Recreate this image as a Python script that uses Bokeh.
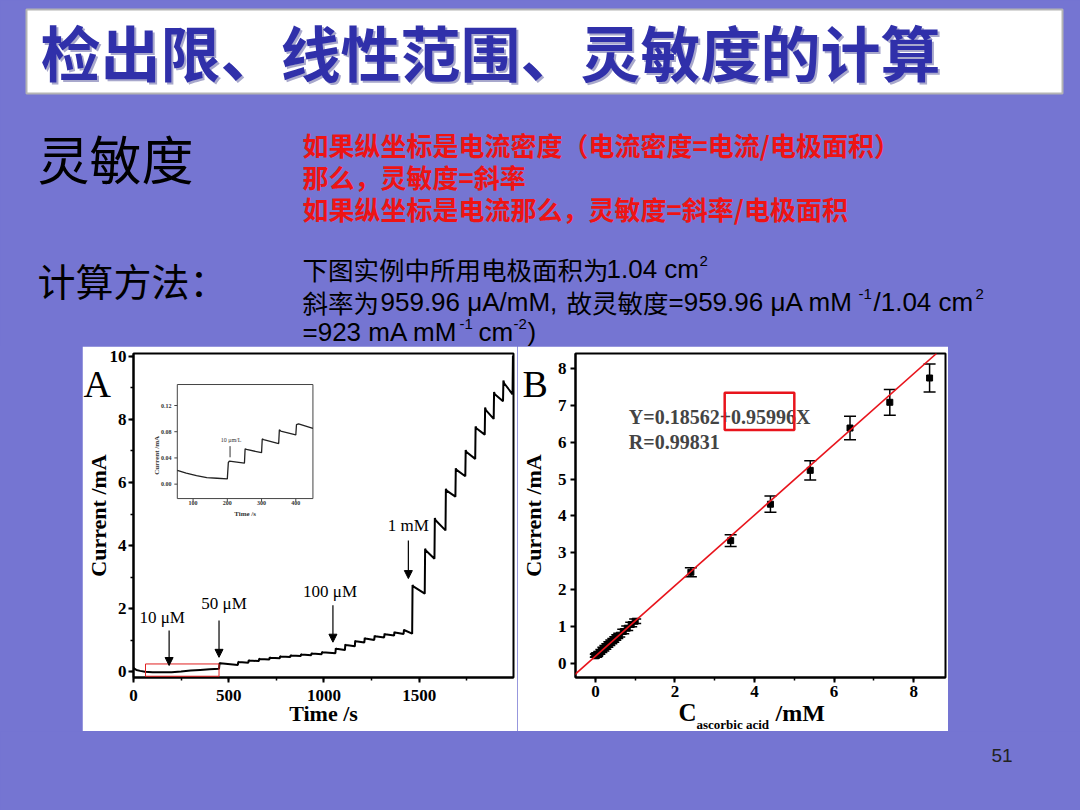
import math
from bokeh.plotting import figure
from bokeh.models import (Range1d, SingleIntervalTicker, Label, Arrow, NormalHead,
                          Whisker, TeeHead, Slope, BoxAnnotation, ColumnDataSource, Spacer)
from bokeh.layouts import column, row
from bokeh.core.properties import value
from bokeh.embed import file_html
from bokeh.resources import INLINE

# ---------------- data / texts ----------------
TITLE = "检出限、线性范围、灵敏度的计算"
HEAD_SENS = "灵敏度"
HEAD_CALC = "计算方法："
RED_LINES = ["如果纵坐标是电流密度（电流密度=电流/电极面积）",
             "那么，灵敏度=斜率",
             "如果纵坐标是电流那么，灵敏度=斜率/电极面积"]
PAGE_NO = "51"

# Panel A: amperometric i-t curve
time_s = [0, 4, 15, 35, 60, 100, 150, 200, 250, 300, 350, 400, 449,
          452, 456, 548, 550, 553, 603, 605, 608, 658, 660, 663, 713,
          715, 718, 768, 770, 773, 823, 825, 828, 878, 880, 883, 933,
          935, 938, 988, 990, 993, 1060,
          1062, 1065, 1110, 1112, 1115, 1162, 1164, 1167, 1212, 1214, 1217, 1264,
          1266, 1269, 1316, 1318, 1321, 1368, 1370, 1373, 1418, 1420, 1423, 1463,
          1465, 1469, 1529, 1531, 1535, 1580, 1582, 1586, 1638, 1640, 1644, 1690,
          1692, 1696, 1742, 1744, 1748, 1794, 1796, 1800, 1844, 1846, 1850, 1891,
          1893, 1897, 1940, 1942, 1946, 1990, 1992, 1995]
current_mA = [0.12, 0.09, 0.05, 0.02, -0.01, -0.02, -0.02, -0.02, 0.0, 0.03, 0.05, 0.07, 0.09,
              0.27, 0.26, 0.21, 0.31, 0.30, 0.28, 0.36, 0.35, 0.33, 0.41, 0.40, 0.38,
              0.45, 0.44, 0.42, 0.49, 0.48, 0.46, 0.52, 0.51, 0.49, 0.55, 0.54, 0.52,
              0.58, 0.57, 0.55, 0.62, 0.61, 0.58,
              0.74, 0.72, 0.68, 0.86, 0.84, 0.80, 0.98, 0.96, 0.92, 1.07, 1.05, 1.00,
              1.14, 1.12, 1.08, 1.20, 1.18, 1.14, 1.26, 1.24, 1.19, 1.33, 1.31, 1.20,
              2.75, 2.70, 2.47, 3.90, 3.84, 3.58, 4.87, 4.80, 4.48, 5.80, 5.74, 5.55,
              6.45, 6.40, 6.20, 7.03, 6.97, 6.75, 7.78, 7.72, 7.52, 8.38, 8.30, 8.02,
              8.87, 8.80, 8.58, 9.24, 9.15, 8.80, 10.02, 10.0]

add_labels = ["10 μM", "50 μM", "100 μM", "1 mM"]
add_time = [187, 449, 1047, 1443]
arrow_top = [1.30, 1.62, 2.10, 4.16]
arrow_tip = [0.19, 0.45, 0.93, 2.95]

# Panel A inset (first 10 uM additions)
inset_time_s = [54, 80, 110, 140, 170, 200, 203, 206, 250, 252, 256, 300,
                302, 306, 350, 352, 356, 400, 402, 408, 450]
inset_current_mA = [0.021, 0.017, 0.013, 0.010, 0.009, 0.008, 0.033, 0.035, 0.032,
                    0.054, 0.053, 0.048, 0.069, 0.068, 0.062, 0.083, 0.081, 0.075,
                    0.091, 0.092, 0.085]
inset_xticks = [100, 200, 300, 400]
inset_yticks = [0.00, 0.04, 0.08, 0.12]
inset_ytick_labels = ["0.00", "0.04", "0.08", "0.12"]
inset_note = "10 μm/L"

# Panel B: calibration
conc_mM = [0.01, 0.02, 0.03, 0.04, 0.05, 0.10, 0.15, 0.20, 0.25, 0.30, 0.35, 0.40,
           0.45, 0.50, 0.55, 0.60, 0.70, 0.80, 0.90, 1.00,
           2.4, 3.4, 4.4, 5.4, 6.4, 7.4, 8.4]
resp_mA = [0.20, 0.21, 0.22, 0.23, 0.24, 0.28, 0.33, 0.38, 0.43, 0.48, 0.53, 0.58,
           0.62, 0.67, 0.72, 0.76, 0.86, 0.95, 1.05, 1.14,
           2.47, 3.33, 4.32, 5.24, 6.39, 7.09, 7.75]
resp_err = [0.04, 0.04, 0.04, 0.04, 0.04, 0.04, 0.04, 0.05, 0.05, 0.05, 0.05, 0.05,
            0.05, 0.05, 0.05, 0.05, 0.06, 0.06, 0.06, 0.06,
            0.12, 0.16, 0.22, 0.26, 0.32, 0.35, 0.38]
fit_intercept = 0.18562
fit_slope = 0.95996
fit_r = 0.99831

# ---------------- styles ----------------
BG = "#7575d2"
CJK = "Noto Sans CJK SC"
LAT = "Liberation Sans"
SERIF = "Liberation Serif"
RED = "#ee1414"


def txt(p, x, y, s, size, color="black", font=CJK, style="normal",
        align="left", baseline="middle", angle=0.0):
    p.text(x=[x], y=[y], text=[s], text_font=value(font), text_font_size=f"{size}px",
           text_font_style=style, text_color=color, text_align=align,
           text_baseline=baseline, angle=angle)


# ---------------- top (slide text) ----------------
TOP_H = 346
top = figure(width=1080, height=TOP_H, x_range=Range1d(0, 1080), y_range=Range1d(TOP_H, 0),
             output_backend="svg", toolbar_location=None, x_axis_type=None, y_axis_type=None,
             min_border=0, background_fill_color=BG, border_fill_color=BG,
             outline_line_color=None)
top.grid.visible = False
top.quad(left=[26], right=[1062], top=[9], bottom=[93], fill_color="white",
         line_color="#b4b4b4", line_width=2)
txt(top, 42, 52, TITLE, 60, "#a8a8cc", style="bold")
txt(top, 40, 50, TITLE, 60, "#3030aa", style="bold")
txt(top, 37, 157, HEAD_SENS, 52)
txt(top, 37, 279, HEAD_CALC, 38)
for yy, s in zip([144, 176, 208], RED_LINES):
    txt(top, 302, yy, s, 26, RED, style="bold")

SUP = 15
# line 1
txt(top, 302, 268, "下图实例中所用电极面积为", 25.5)
txt(top, 606, 268, "1.04 cm", 26, font=LAT)
txt(top, 699, 260, "2", SUP, font=LAT)
# line 2
txt(top, 302, 301, "斜率为", 25.5)
txt(top, 380, 301, "959.96 μA/mM,", 26, font=LAT)
txt(top, 566, 301, "故灵敏度", 25.5)
txt(top, 668, 301, "=959.96 μA mM", 26, font=LAT)
txt(top, 858, 293, "-1", SUP, font=LAT)
txt(top, 873, 301, "/1.04 cm", 26, font=LAT)
txt(top, 975, 293, "2", SUP, font=LAT)
# line 3
txt(top, 302, 331, "=923 mA mM", 26, font=LAT)
txt(top, 459, 323, "-1", SUP, font=LAT)
txt(top, 478, 331, "cm", 26, font=LAT)
txt(top, 513, 323, "-2", SUP, font=LAT)
txt(top, 527, 331, ")", 26, font=LAT)


def style_axes(p, tick_size="17px"):
    p.grid.visible = False
    for ax in (p.xaxis, p.yaxis):
        ax.axis_line_width = 2
        ax.major_tick_line_width = 2
        ax.minor_tick_line_width = 1.5
        ax.major_tick_in = 0
        ax.major_tick_out = 5
        ax.minor_tick_in = 0
        ax.minor_tick_out = 3
        ax.major_label_text_font = SERIF
        ax.major_label_text_font_style = "bold"
        ax.major_label_text_font_size = tick_size
        ax.major_label_text_color = "black"
        ax.axis_label_text_font = SERIF
        ax.axis_label_text_font_style = "bold"
        ax.axis_label_text_font_size = "22px"
        ax.axis_label_text_color = "black"


MID_Y0 = TOP_H
MID_H = 731 - TOP_H
# both panels share the same frame top/bottom (row aligns them)
FR_TOP = 353 - TOP_H
FR_BOT = 54

# ---------------- panel A ----------------
pA = figure(width=435, height=MID_H, x_range=Range1d(0, 1995), y_range=Range1d(-0.19, 10.095),
            output_backend="svg", toolbar_location=None,
            min_border_left=50, min_border_right=4, min_border_top=FR_TOP,
            min_border_bottom=FR_BOT,
            background_fill_color="white", border_fill_color="white",
            outline_line_color="black", outline_line_width=2)
style_axes(pA)
pA.xaxis.ticker = SingleIntervalTicker(interval=500, num_minor_ticks=2)
pA.yaxis.ticker = SingleIntervalTicker(interval=2, num_minor_ticks=2)
pA.xaxis.axis_label = "Time /s"
pA.yaxis.axis_label = "Current /mA"
pA.xaxis.major_label_standoff = 7
pA.xaxis.axis_label_standoff = -3
pA.yaxis.major_label_standoff = 2
pA.yaxis.axis_label_standoff = -4

pA.line(time_s, current_mA, line_color="black", line_width=2)
pA.add_layout(BoxAnnotation(left=63, right=449, bottom=-0.15, top=0.24, fill_alpha=0,
                            line_color="#e02020", line_alpha=1, line_width=1))
for t, y0, y1 in zip(add_time, arrow_top, arrow_tip):
    pA.add_layout(Arrow(end=NormalHead(size=8, fill_color="black", line_color="black",
                                       line_width=1),
                        x_start=t, y_start=y0, x_end=t, y_end=y1,
                        line_color="black", line_width=1.2))
for s, lx, ly in zip(add_labels, [31, 356, 890, 1335], [1.71, 2.16, 2.55, 4.63]):
    pA.add_layout(Label(x=lx, y=ly, text=s, text_font=SERIF, text_font_size="17px",
                        text_baseline="middle", text_color="black"))

# inset
ins_x = Range1d(54, 450)
ins_y = Range1d(-0.022, 0.152)
inset = pA.subplot(x_source=ins_x, y_source=ins_y,
                   x_target=Range1d(230, 942), y_target=Range1d(5.49, 9.11))
inset.quad(left=[ins_x.start], right=[ins_x.end], bottom=[ins_y.start], top=[ins_y.end],
           fill_color="white", line_color="#444444", line_width=1)
inset.line(inset_time_s, inset_current_mA, line_color="#222222", line_width=1.3)
inset.segment(x0=inset_xticks, y0=[ins_y.start] * 4, x1=inset_xticks,
              y1=[ins_y.start - 0.0045] * 4, line_color="#444444", line_width=1)
inset.segment(x0=[ins_x.start] * 4, y0=inset_yticks, x1=[ins_x.start - 8.7] * 4,
              y1=inset_yticks, line_color="#444444", line_width=1)
inset.text(x=inset_xticks, y=[-0.0295] * 4, text=[str(v) for v in inset_xticks],
           text_font=value(SERIF), text_font_size="6px", text_font_style="bold",
           text_align="center", text_baseline="middle", text_color="#333333")
inset.text(x=[37] * 4, y=inset_yticks, text=inset_ytick_labels,
           text_font=value(SERIF), text_font_size="6px", text_font_style="bold",
           text_align="right", text_baseline="middle", text_color="#333333")
inset.text(x=[-6], y=[0.044], text=["Current /mA"], angle=math.pi / 2,
           text_font=value(SERIF), text_font_size="7px", text_font_style="bold",
           text_align="center", text_baseline="middle", text_color="#333333")
inset.text(x=[252], y=[-0.046], text=["Time /s"],
           text_font=value(SERIF), text_font_size="7px", text_font_style="bold",
           text_align="center", text_baseline="middle", text_color="#333333")
inset.text(x=[211], y=[0.068], text=[inset_note],
           text_font=value(SERIF), text_font_size="6px",
           text_align="center", text_baseline="middle", text_color="#333333")
inset.segment(x0=[208], y0=[0.058], x1=[208], y1=[0.041], line_color="#333333",
              line_width=1)

# ---------------- panel B ----------------
pB = figure(width=431, height=MID_H, x_range=Range1d(-0.5, 8.8), y_range=Range1d(-0.39, 8.416),
            output_backend="svg", toolbar_location=None,
            min_border_left=52, min_border_right=3, min_border_top=FR_TOP,
            min_border_bottom=FR_BOT,
            background_fill_color="white", border_fill_color="white",
            outline_line_color="black", outline_line_width=2)
style_axes(pB)
pB.xaxis.ticker = SingleIntervalTicker(interval=2, num_minor_ticks=2)
pB.yaxis.ticker = SingleIntervalTicker(interval=1)
pB.yaxis.minor_tick_line_color = None
pB.yaxis.axis_label = "Current /mA"
pB.xaxis.major_label_standoff = 3
pB.yaxis.major_label_standoff = 4
pB.yaxis.axis_label_standoff = 9

srcB = ColumnDataSource(dict(
    x=conc_mM, y=resp_mA,
    upper=[v + e for v, e in zip(resp_mA, resp_err)],
    lower=[v - e for v, e in zip(resp_mA, resp_err)]))
pB.add_layout(Whisker(source=srcB, base="x", upper="upper", lower="lower",
                      line_color="black", line_width=1.5,
                      upper_head=TeeHead(size=12, line_color="black", line_width=1.5),
                      lower_head=TeeHead(size=12, line_color="black", line_width=1.5)))
pB.scatter("x", "y", source=srcB, marker="square", size=6, color="black")
pB.add_layout(Slope(gradient=fit_slope, y_intercept=fit_intercept,
                    line_color="#e8141c", line_width=1.6))
pB.add_layout(Label(x=0.84, y=6.7, text=f"Y={fit_intercept}+{fit_slope}X", text_font=SERIF,
                    text_font_style="bold", text_font_size="20px", text_baseline="middle"))
pB.add_layout(Label(x=0.84, y=6.0, text=f"R={fit_r}", text_font=SERIF,
                    text_font_style="bold", text_font_size="20px", text_baseline="middle"))
pB.add_layout(BoxAnnotation(left=3.25, right=5.0, bottom=6.34, top=7.35, fill_alpha=0,
                            line_color="#e8141c", line_alpha=1, line_width=2.5))

# ---------------- transparent overlay for panel letters and B's x label ----------------
ov = figure(width=1080, height=MID_H, x_range=Range1d(0, 1080),
            y_range=Range1d(MID_Y0 + MID_H, MID_Y0),
            output_backend="svg", toolbar_location=None, x_axis_type=None, y_axis_type=None,
            min_border=0, background_fill_alpha=0, border_fill_alpha=0,
            outline_line_color=None, styles={"margin-top": f"-{MID_H}px"})
ov.grid.visible = False
txt(ov, 83, 383, "A", 38, font=SERIF, baseline="alphabetic")
txt(ov, 522, 383, "B", 38, font=SERIF, baseline="alphabetic")
txt(ov, 678, 712, "C", 25, font=SERIF, style="bold")
txt(ov, 696, 724, "ascorbic acid", 13, font=SERIF, style="bold")
txt(ov, 775, 712, "/mM", 24, font=SERIF, style="bold")

# ---------------- bottom ----------------
BOT_H = 810 - TOP_H - MID_H
bottom = figure(width=1080, height=BOT_H, x_range=Range1d(0, 1080),
                y_range=Range1d(810, 810 - BOT_H),
                output_backend="svg", toolbar_location=None, x_axis_type=None,
                y_axis_type=None, min_border=0, background_fill_color=BG,
                border_fill_color=BG, outline_line_color=None)
bottom.grid.visible = False
txt(bottom, 991, 755, PAGE_NO, 19, "#222222", font=LAT)

left_sp = Spacer(width=82, height=MID_H, styles={"background-color": BG})
right_sp = Spacer(width=132, height=MID_H, styles={"background-color": BG})
mid = row(left_sp, pA, pB, right_sp, spacing=0, styles={"background-color": BG})
page = column(top, mid, ov, bottom, spacing=0, styles={"background-color": BG})

open("out.html", "w").write(file_html(page, INLINE))
